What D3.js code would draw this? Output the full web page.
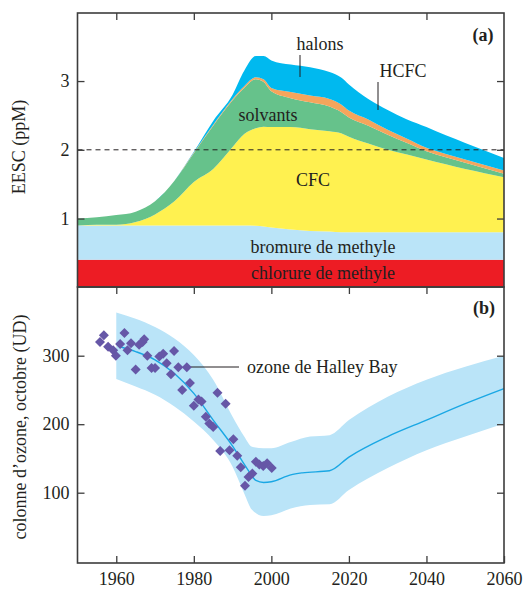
<!DOCTYPE html>
<html>
<head>
<meta charset="utf-8">
<script src="https://cdn.jsdelivr.net/npm/d3@7"></script>
<style>
  body { margin: 0; background: #fff; }
  svg text { font-family: "Liberation Serif", "DejaVu Serif", serif; fill: #231f20; }
</style>
</head>
<body>
<div id="chart"></div>
<script>
// ---- data (a): EESC contributions, ppM (stacked thickness per source)
const years = [1950, 1955, 1960, 1965, 1970, 1975, 1980, 1985, 1990, 1993, 1996, 1998, 2000,
               2005, 2010, 2015, 2018, 2020, 2025, 2030, 2035, 2040, 2045, 2050, 2055, 2060];
const chlorure = [0.40, 0.40, 0.40, 0.40, 0.40, 0.40, 0.40, 0.40, 0.40, 0.40, 0.40, 0.40, 0.40,
                  0.40, 0.40, 0.40, 0.40, 0.40, 0.40, 0.40, 0.40, 0.40, 0.40, 0.40, 0.40, 0.40];
const bromure = [0.50, 0.50, 0.50, 0.50, 0.50, 0.50, 0.50, 0.50, 0.50, 0.50, 0.495, 0.485, 0.47,
                 0.44, 0.42, 0.41, 0.40, 0.40, 0.40, 0.40, 0.40, 0.40, 0.40, 0.40, 0.40, 0.40];
const cfc = [0.00, 0.01, 0.01, 0.05, 0.16, 0.35, 0.63, 0.82, 1.14, 1.33, 1.42, 1.45, 1.46,
             1.49, 1.48, 1.46, 1.44, 1.39, 1.29, 1.20, 1.13, 1.06, 0.99, 0.92, 0.86, 0.80];
const solvants = [0.10, 0.11, 0.14, 0.15, 0.19, 0.30, 0.42, 0.63, 0.68, 0.67, 0.71, 0.65, 0.52,
                  0.42, 0.39, 0.36, 0.31, 0.28, 0.26, 0.22, 0.17, 0.12, 0.10, 0.09, 0.07, 0.05];
const hcfc = [0, 0, 0, 0, 0, 0, 0.01, 0.015, 0.02, 0.025, 0.03, 0.04, 0.05,
              0.09, 0.10, 0.11, 0.11, 0.10, 0.09, 0.07, 0.06, 0.05, 0.05, 0.05, 0.05, 0.05];
const halons = [0, 0, 0, 0, 0, 0, 0.01, 0.055, 0.06, 0.225, 0.31, 0.34, 0.40,
                0.40, 0.41, 0.39, 0.39, 0.38, 0.30, 0.29, 0.28, 0.30, 0.27, 0.24, 0.21, 0.18];

// ---- data (b): October ozone column, DU
const bandYears = [1960, 1965, 1970, 1975, 1980, 1985, 1990, 1993, 1995, 1998, 2000,
                   2005, 2010, 2015, 2020, 2030, 2040, 2050, 2060];
const bandHigh = [363, 354, 342, 325, 301, 265, 211, 182, 167, 165, 165,
                  174, 182, 184, 206, 240, 265, 284, 300];
const bandLow = [266, 255, 243, 226, 204, 177, 138, 99, 75, 66, 67,
                 77, 82, 83, 104, 136, 162, 182, 201];
const modelYears = [1961, 1965, 1970, 1975, 1980, 1985, 1990, 1994, 1996, 1998, 2000,
                    2005, 2008, 2015, 2020, 2030, 2040, 2050, 2060];
const modelOzone = [313, 306, 294, 274, 245, 206, 168, 133, 118, 115, 116,
                    126, 129, 132, 152, 182, 206, 230, 252];
const halleyYears = [1955.8, 1956.8, 1957.9, 1959.2, 1959.9, 1961, 1962.1, 1962.9, 1963.8, 1965,
                     1965.9, 1966.8, 1967.2, 1968, 1969.1, 1970, 1971.1, 1972.1, 1973, 1974.1,
                     1974.9, 1976, 1977, 1978.2, 1979, 1980, 1981.2, 1982, 1983.1, 1984,
                     1985, 1986.1, 1986.8, 1988.2, 1989.2, 1990.2, 1991.2, 1992.1, 1993.2, 1994.1,
                     1995.1, 1996, 1996.9, 1997.9, 1998.9, 2000.1];
const halleyOzone = [320, 330, 313, 308, 300, 317, 333, 308, 318, 280,
                     316, 320, 324, 300, 282, 282, 299, 303, 289, 273,
                     307, 283, 250, 283, 260, 227, 236, 233, 211, 201,
                     196, 246, 161, 230, 162, 178, 154, 137, 110, 123,
                     128, 145, 141, 139, 143, 136];

const keys = ["chlorure", "bromure", "cfc", "solvants", "hcfc", "halons"];
const colors = {
    chlorure: "#ed1c24", bromure: "#bae4f8", cfc: "#fff150",
    solvants: "#66c28b", hcfc: "#f5a55c", halons: "#00b9ef"
};

const width = 529, height = 590;
const left = 77.5, right = 504;
const topA = 13, bottomA = 287, bottomB = 563;

const svg = d3.select("#chart")
    .append("svg")
    .attr("width", width)
    .attr("height", height);

const x = d3.scaleLinear().domain([1950, 2060]).range([left, right]);
const yA = d3.scaleLinear().domain([0, 4]).range([287.3, 12.3]);
const yB = d3.scaleLinear().domain([0, 400]).range([561.2, 287.2]);

// ---- panel (a)
const table = years.map((yr, i) => ({
    year: yr, chlorure: chlorure[i], bromure: bromure[i], cfc: cfc[i],
    solvants: solvants[i], hcfc: hcfc[i], halons: halons[i]
}));
const stacked = d3.stack().keys(keys)(table);

const area = d3.area()
    .x(d => x(d.data.year))
    .y0(d => yA(d[0]))
    .y1(d => yA(d[1]))
    .curve(d3.curveMonotoneX);

svg.append("g")
    .selectAll("path")
    .data(stacked)
    .join("path")
    .attr("fill", d => colors[d.key])
    .attr("d", area);

// threshold line at 2 ppM
svg.append("line")
    .attr("x1", left).attr("x2", right)
    .attr("y1", yA(2)).attr("y2", yA(2))
    .attr("stroke", "#231f20")
    .attr("stroke-width", 1)
    .attr("stroke-dasharray", "5,4");

// ---- panel (b)
const bandData = bandYears.map((yr, i) => ({year: yr, lo: bandLow[i], hi: bandHigh[i]}));
svg.append("path")
    .datum(bandData)
    .attr("fill", "#bae4f8")
    .attr("d", d3.area()
        .x(d => x(d.year))
        .y0(d => yB(d.lo))
        .y1(d => yB(d.hi))
        .curve(d3.curveMonotoneX));

svg.append("path")
    .datum(modelYears.map((yr, i) => [yr, modelOzone[i]]))
    .attr("fill", "none")
    .attr("stroke", "#1aa7e4")
    .attr("stroke-width", 1.4)
    .attr("d", d3.line()
        .x(d => x(d[0]))
        .y(d => yB(d[1]))
        .curve(d3.curveMonotoneX));

// Halley Bay label leader
svg.append("line")
    .attr("x1", 187).attr("x2", 239)
    .attr("y1", 367).attr("y2", 367)
    .attr("stroke", "#231f20").attr("stroke-width", 1);

svg.append("g")
    .selectAll("path")
    .data(halleyYears.map((yr, i) => [yr, halleyOzone[i]]))
    .join("path")
    .attr("d", d3.symbol(d3.symbolSquare, 50))
    .attr("transform", d => `translate(${x(d[0])},${yB(d[1])}) rotate(45)`)
    .attr("fill", "#6657a7");

// ---- frames
const frame = svg.append("g")
    .attr("fill", "none")
    .attr("stroke", "#3d3d3d")
    .attr("stroke-width", 1.6);
frame.append("rect").attr("x", left).attr("y", topA).attr("width", right - left).attr("height", bottomA - topA);
frame.append("rect").attr("x", left).attr("y", bottomA).attr("width", right - left).attr("height", bottomB - bottomA);

// ---- axes
const decades = [1960, 1980, 2000, 2020, 2040];

function styleAxis(g) {
    g.select(".domain").remove();
    g.selectAll(".tick line").attr("stroke", "#3d3d3d").attr("stroke-width", 1.3);
    g.selectAll("text")
        .style("font-family", "'Liberation Serif', serif")
        .style("font-size", "18px")
        .attr("fill", "#231f20");
}

svg.append("g").attr("transform", `translate(${left},0)`)
    .call(d3.axisLeft(yA).tickValues([1, 2, 3]).tickSize(-7).tickPadding(8).tickFormat(d3.format("d")))
    .call(styleAxis);
svg.append("g").attr("transform", `translate(${right},0)`)
    .call(d3.axisRight(yA).tickValues([1, 2, 3]).tickSize(-7).tickFormat(""))
    .call(styleAxis);
svg.append("g").attr("transform", `translate(0,${topA})`)
    .call(d3.axisTop(x).tickValues(decades).tickSize(-7).tickFormat(""))
    .call(styleAxis);

svg.append("g").attr("transform", `translate(${left},0)`)
    .call(d3.axisLeft(yB).tickValues([100, 200, 300]).tickSize(-7).tickPadding(8))
    .call(styleAxis);
svg.append("g").attr("transform", `translate(${right},0)`)
    .call(d3.axisRight(yB).tickValues([100, 200, 300]).tickSize(-7).tickFormat(""))
    .call(styleAxis);
svg.append("g").attr("transform", `translate(0,${bottomA})`)
    .call(d3.axisBottom(x).tickValues(decades).tickSize(7).tickFormat(""))
    .call(styleAxis);
svg.append("g").attr("transform", `translate(0,${bottomB})`)
    .call(d3.axisBottom(x).tickValues(decades.concat([2060])).tickSize(-7).tickPadding(9).tickFormat(d3.format("d")))
    .call(styleAxis);

// ---- text labels
function label(txt, px, py, opts = {}) {
    svg.append("text")
        .attr("x", px).attr("y", py)
        .attr("text-anchor", opts.anchor || "middle")
        .attr("font-size", opts.size || 18)
        .attr("font-weight", opts.weight || "normal")
        .attr("fill", opts.fill || "#231f20")
        .attr("transform", opts.rotate ? `rotate(-90,${px},${py})` : null)
        .text(txt);
}

label("(a)", 483, 41, {weight: "bold"});
label("(b)", 484, 314, {weight: "bold"});
label("halons", 320, 50);
label("HCFC", 403, 77);
label("solvants", 268, 121);
label("CFC", 313, 186);
label("bromure de methyle", 323, 253);
label("chlorure de methyle", 323, 279, {fill: "#ffffff"});
label("ozone de Halley Bay", 247, 373, {anchor: "start"});
label("EESC (ppM)", 25, 147, {rotate: true});
label("colonne d\u2019ozone, octobre (UD)", 26, 427, {rotate: true});

// leader lines for halons and HCFC
svg.append("line").attr("x1", 300).attr("x2", 300).attr("y1", 55).attr("y2", 77)
    .attr("stroke", "#231f20").attr("stroke-width", 1);
svg.append("line").attr("x1", 378).attr("x2", 378).attr("y1", 82).attr("y2", 110)
    .attr("stroke", "#231f20").attr("stroke-width", 1);
</script>
</body>
</html>
